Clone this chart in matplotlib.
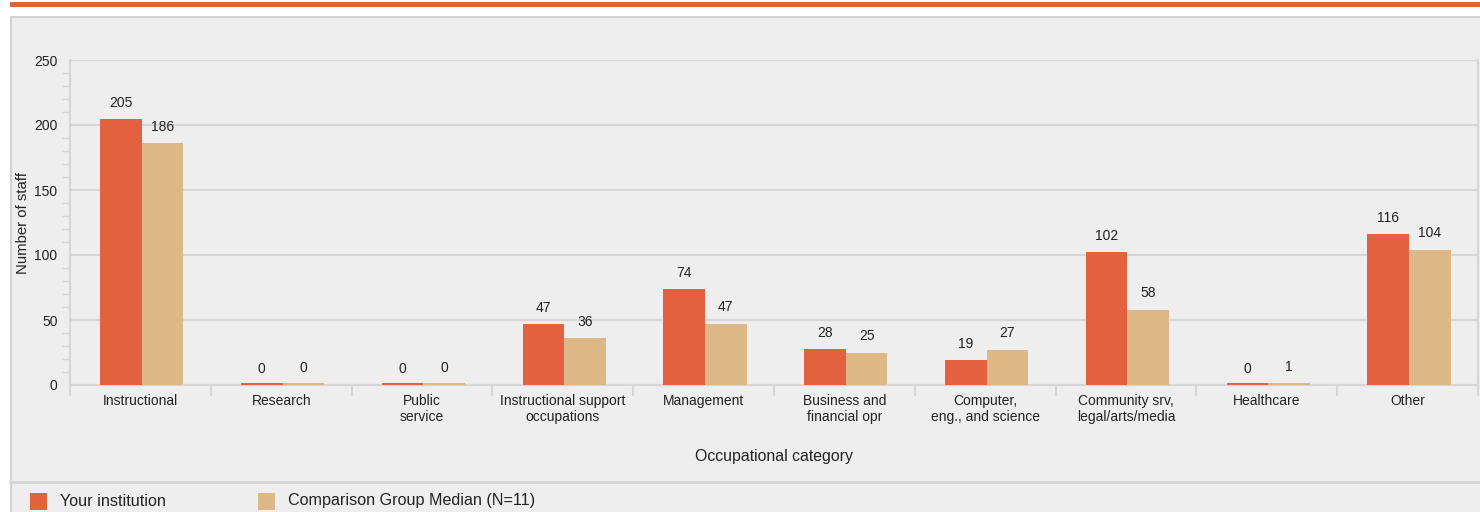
import matplotlib
matplotlib.use("Agg")
import matplotlib.pyplot as plt
from matplotlib.patches import Rectangle
from matplotlib.lines import Line2D
import numpy as np

plt.rcParams['font.family'] = ['Liberation Sans', 'DejaVu Sans']

categories = ["Instructional", "Research", "Public\nservice",
              "Instructional support\noccupations", "Management",
              "Business and\nfinancial opr", "Computer,\neng., and science",
              "Community srv,\nlegal/arts/media", "Healthcare", "Other"]
your_inst = [205, 0, 0, 47, 74, 28, 19, 102, 0, 116]
comp_median = [186, 0, 0, 36, 47, 25, 27, 58, 1, 104]

red = '#E3613F'
tan = '#DEB887'
grid_c = '#D6D6D6'
W, H = 1480, 512

fig = plt.figure(figsize=(W / 100, H / 100), dpi=100)
fig.patch.set_facecolor('white')

# orange strip and grey panel (behind the axes)
fig.patches.append(Rectangle((10 / W, 1 - 7 / H), 1, 5 / H, transform=fig.transFigure,
                             facecolor='#DD6442', edgecolor='none', zorder=-5))
fig.patches.append(Rectangle((10.5 / W, -0.1), 1, 1.1 - 17 / H, transform=fig.transFigure,
                             facecolor='#EEEEEE', edgecolor='#D4D4D4', linewidth=1.5, zorder=-5))
fig.lines.append(Line2D([10 / W, 1], [1 - 482 / H, 1 - 482 / H], transform=fig.transFigure,
                        color='#D4D4D4', linewidth=2, zorder=-4))

ax = fig.add_axes([70 / W, 1 - 385 / H, 1408 / W, 325 / H])
ax.set_zorder(2)
ax.set_facecolor('none')

x = np.arange(len(categories))
bw = 0.295
# zero values still get a thin visible stub, as in the original
ax.bar(x - bw / 2 + 0.01, np.maximum(your_inst, 1.2), bw, color=red, zorder=3)
ax.bar(x + bw / 2 + 0.01, np.maximum(comp_median, 1.2), bw, color=tan, zorder=3)

for xi, v in zip(x, your_inst):
    ax.annotate(str(v), (xi - bw / 2 + 0.01, v), xytext=(0, 11.5), textcoords='offset points',
                ha='center', va='center', fontsize=10, color='#222222')
for xi, v in zip(x, comp_median):
    ax.annotate(str(v), (xi + bw / 2 + 0.01, v), xytext=(0, 12), textcoords='offset points',
                ha='center', va='center', fontsize=10, color='#222222')

ax.set_xlim(-0.5, len(categories) - 0.5)
ax.set_ylim(0, 250)
ax.set_yticks([0, 50, 100, 150, 200, 250])
ax.set_yticks(np.arange(0, 251, 10), minor=True)
ax.yaxis.grid(True, which='major', color=grid_c, linewidth=1.5, zorder=0)
ax.tick_params(axis='y', which='major', length=0, pad=9, labelsize=10, labelcolor='#222222')
ax.tick_params(axis='y', which='minor', length=6, width=1, color=grid_c)

ax.set_xticks(x)
ax.set_xticklabels(categories, fontsize=10, color='#222222', linespacing=1.2)
ax.set_xticks(np.arange(-0.5, len(categories)), minor=True)
ax.tick_params(axis='x', which='major', length=0, pad=6.5)
ax.tick_params(axis='x', which='minor', length=8, width=1.5, color=grid_c)

ax.spines['top'].set_visible(False)
for s in ['left', 'right', 'bottom']:
    ax.spines[s].set_color(grid_c)
    ax.spines[s].set_linewidth(1.5)

ax.set_ylabel('Number of staff', fontsize=10.7, color='#222222', labelpad=3)
ax.set_xlabel('Occupational category', fontsize=11.4, color='#222222', labelpad=18)

# legend
fig.patches.append(Rectangle((30 / W, 1 - 510 / H), 17 / W, 17 / H, transform=fig.transFigure,
                             facecolor=red, edgecolor='none'))
fig.text(60 / W, 1 - 501 / H, 'Your institution', fontsize=11.6, va='center', color='#222222')
fig.patches.append(Rectangle((258 / W, 1 - 510 / H), 17 / W, 17 / H, transform=fig.transFigure,
                             facecolor=tan, edgecolor='none'))
fig.text(288 / W, 1 - 501 / H, 'Comparison Group Median (N=11)', fontsize=11.6, va='center',
         color='#222222')

fig.savefig('out.png', dpi=100)
